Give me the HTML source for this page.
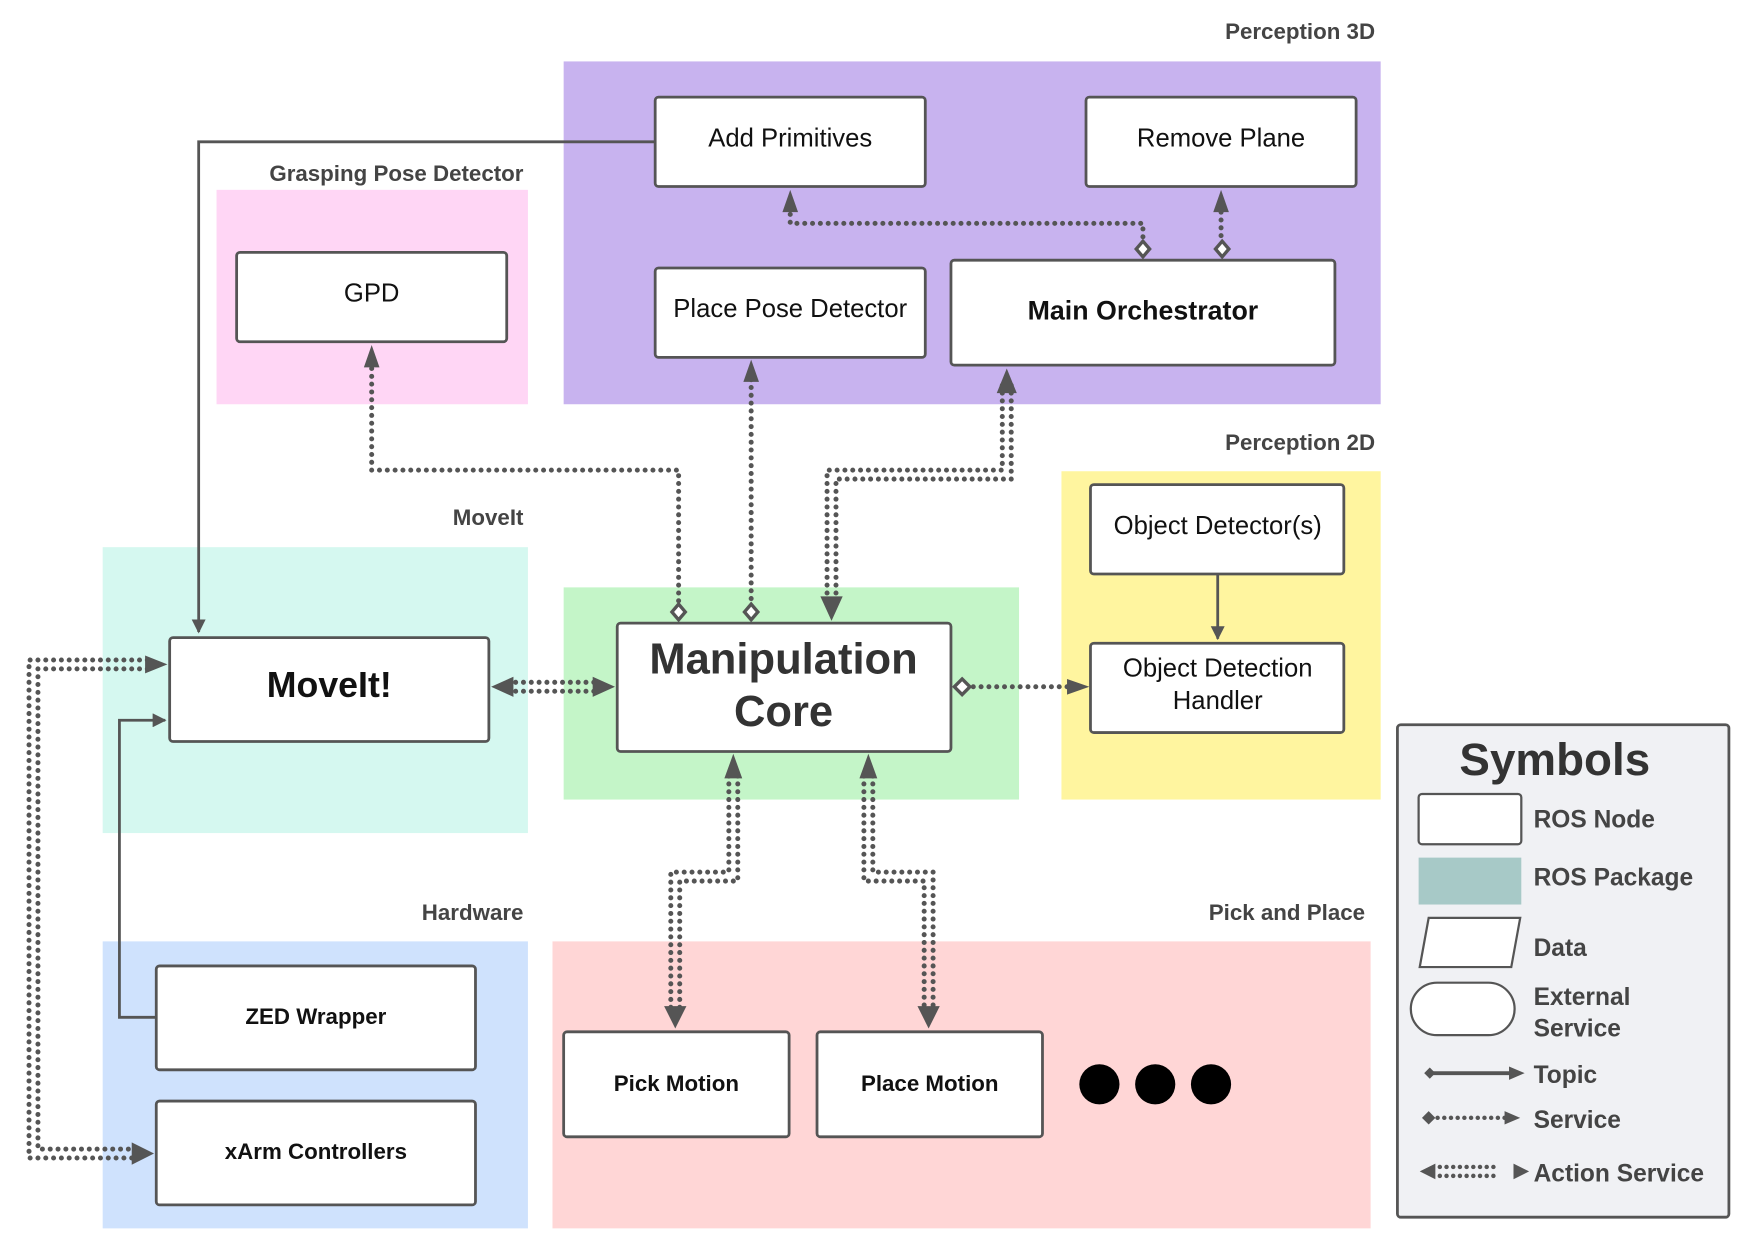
<!DOCTYPE html>
<html><head><meta charset="utf-8"><style>
html,body{margin:0;padding:0;background:#fff;}
svg{display:block;}
text{font-family:"Liberation Sans",sans-serif;}
</style></head><body>
<svg width="1749" height="1244" viewBox="0 0 1567 1114" preserveAspectRatio="none" xmlns="http://www.w3.org/2000/svg">
<defs>
<marker id="ar" viewBox="0 0 10 10" refX="9" refY="5" markerWidth="5" markerHeight="5" orient="auto-start-reverse" markerUnits="strokeWidth"><path d="M0,0 L10,5 L0,10 z" fill="#555"/></marker>
</defs>
<rect width="1567" height="1114" fill="#fff"/>
<rect x="505" y="55" width="732" height="307" fill="#c8b3ef"/>
<rect x="194" y="170" width="279" height="192" fill="#ffd6f5"/>
<rect x="92" y="490" width="381" height="256" fill="#d5f8f0"/>
<rect x="505" y="526" width="408" height="190" fill="#c4f5c8"/>
<rect x="951" y="422" width="286" height="294" fill="#fff59f"/>
<rect x="92" y="843" width="381" height="257" fill="#cfe2fd"/>
<rect x="495" y="843" width="733" height="257" fill="#ffd6d6"/>
<g font-weight="bold" font-size="20" fill="#444" text-anchor="end">
<text x="1232" y="35">Perception 3D</text>
<text x="469" y="162">Grasping Pose Detector</text>
<text x="469" y="470">MoveIt</text>
<text x="1232" y="403">Perception 2D</text>
<text x="469" y="824">Hardware</text>
<text x="1223" y="824">Pick and Place</text>
</g>
<g fill="none" stroke="#555" stroke-width="2.5">
<path d="M587,127 L178,127 L178,566" marker-end="url(#ar)"/>
<path d="M140,911 L107,911 L107,645 L148,645" marker-end="url(#ar)"/>
<path d="M1091,514 L1091,572" marker-end="url(#ar)"/>
</g>
<g fill="none" stroke="#555" stroke-width="4.5" stroke-linecap="round" stroke-dasharray="0 7">
<path d="M333,330 L333,421 L608,421 L608,540"/>
<path d="M673,340 L673,540"/>
<path d="M708,192 L708,200 L1024,200 L1024,216"/>
<path d="M1094,190 L1094,216"/>
<path d="M872,615 L958,615"/>
<path d="M898,345 L898,421 L741,421 L741,540"/>
<path d="M906,345 L906,429 L749,429 L749,540"/>
<path d="M455,611 L537,611"/>
<path d="M455,619 L537,619"/>
<path d="M653,695 L653,781 L601,781 L601,905"/>
<path d="M661,695 L661,789 L609,789 L609,905"/>
<path d="M774,695 L774,789 L828,789 L828,905"/>
<path d="M782,695 L782,781 L836,781 L836,905"/>
<path d="M132,591 L26,591 L26,1037 L122,1037"/>
<path d="M132,599 L34,599 L34,1029 L122,1029"/>
</g>
<g fill="#555">
<path d="M333,309 l-7,20 l14,0z"/>
<path d="M673,322 l-7,20 l14,0z"/>
<path d="M708,170 l-7,20 l14,0z"/>
<path d="M1094,170 l-7,20 l14,0z"/>
<path d="M902,330 l-9,22 l18,0z"/>
<path d="M745,556 l-10,-22 l20,0z"/>
<path d="M976,615 l-20,-7 l0,14z"/>
<path d="M440,615 l20,-9 l0,18z"/>
<path d="M551,615 l-20,-9 l0,18z"/>
<path d="M657,675 l-8,22 l16,0z"/>
<path d="M778,675 l-8,22 l16,0z"/>
<path d="M605,921 l-10,-20 l20,0z"/>
<path d="M832,921 l-10,-20 l20,0z"/>
<path d="M150,595 l-20,-8 l0,16z"/>
<path d="M138,1033 l-20,-10 l0,20z"/>
</g>
<g fill="#fff" stroke="#555" stroke-width="3">
<path d="M608,541 l6,7 l-6,7 l-6,-7z"/>
<path d="M673,541 l6,7 l-6,7 l-6,-7z"/>
<path d="M1024,216 l6,7 l-6,7 l-6,-7z"/>
<path d="M1095,216 l6,7 l-6,7 l-6,-7z"/>
<path d="M862,608 l7,7 l-7,7 l-7,-7z"/>
</g>
<g fill="#fff" stroke="#555" stroke-width="2.5">
<rect x="587" y="87" width="242" height="80" rx="3"/>
<rect x="973" y="87" width="242" height="80" rx="3"/>
<rect x="212" y="226" width="242" height="80" rx="3"/>
<rect x="587" y="240" width="242" height="80" rx="3"/>
<rect x="852" y="233" width="344" height="94" rx="3"/>
<rect x="152" y="571" width="286" height="93" rx="3"/>
<rect x="553" y="558" width="299" height="115" rx="3"/>
<rect x="977" y="434" width="227" height="80" rx="3"/>
<rect x="977" y="576" width="227" height="80" rx="3"/>
<rect x="140" y="865" width="286" height="93" rx="3"/>
<rect x="140" y="986" width="286" height="93" rx="3"/>
<rect x="505" y="924" width="202" height="94" rx="3"/>
<rect x="732" y="924" width="202" height="94" rx="3"/>
</g>
<g fill="#111" text-anchor="middle" font-size="23">
<text x="708" y="131">Add Primitives</text>
<text x="1094" y="131">Remove Plane</text>
<text x="333" y="270">GPD</text>
<text x="708" y="284">Place Pose Detector</text>
<text x="1024" y="286" font-weight="bold" font-size="24">Main Orchestrator</text>
<text x="295" y="624" font-weight="bold" font-size="32">MoveIt!</text>
<text x="702" y="603" font-weight="bold" font-size="39" fill="#333">Manipulation</text>
<text x="702" y="650" font-weight="bold" font-size="39" fill="#333">Core</text>
<text x="1091" y="478">Object Detector(s)</text>
<text x="1091" y="606">Object Detection</text>
<text x="1091" y="635">Handler</text>
<g font-weight="bold" font-size="20">
<text x="283" y="917">ZED Wrapper</text>
<text x="283" y="1038">xArm Controllers</text>
<text x="606" y="977">Pick Motion</text>
<text x="833" y="977">Place Motion</text>
</g>
</g>
<circle cx="985" cy="971" r="18" fill="#000"/>
<circle cx="1035" cy="971" r="18" fill="#000"/>
<circle cx="1085" cy="971" r="18" fill="#000"/>
<rect x="1252" y="649" width="297" height="441" rx="3" fill="#f0f1f4" stroke="#555" stroke-width="2.5"/>
<text x="1393" y="694" text-anchor="middle" font-weight="bold" font-size="41" fill="#333">Symbols</text>
<rect x="1271" y="711" width="92" height="45" rx="3" fill="#fff" stroke="#555" stroke-width="2"/>
<rect x="1271" y="768" width="92" height="42" fill="#a7c9c7"/>
<path d="M1280,822 L1362,822 L1354,866 L1272,866 Z" fill="#fff" stroke="#555" stroke-width="2"/>
<rect x="1264" y="880" width="93" height="47" rx="23.5" fill="#fff" stroke="#555" stroke-width="2"/>
<g stroke="#555" fill="#555">
<path d="M1279,961 L1355,961" stroke-width="3.5"/>
<path d="M1366,961 l-14,-6 l0,12z" stroke="none"/>
<path d="M1276,961 l5,-5 l5,5 l-5,5z" stroke="none"/>
<path d="M1288,1001 L1350,1001" stroke-width="4" stroke-linecap="round" stroke-dasharray="0 6" fill="none"/>
<path d="M1362,1001 l-14,-6 l0,12z" stroke="none"/>
<path d="M1274,1001 l6,-6 l6,6 l-6,6z" stroke="none"/>
<path d="M1290,1045 L1340,1045 M1290,1053 L1340,1053" stroke-width="4" stroke-linecap="round" stroke-dasharray="0 6" fill="none"/>
<path d="M1272,1049 l14,-7 l0,14z" stroke="none"/>
<path d="M1370,1049 l-14,-7 l0,14z" stroke="none"/>
</g>
<g font-weight="bold" font-size="22" fill="#444">
<text x="1374" y="741">ROS Node</text>
<text x="1374" y="793">ROS Package</text>
<text x="1374" y="856">Data</text>
<text x="1374" y="900">External</text>
<text x="1374" y="928">Service</text>
<text x="1374" y="970">Topic</text>
<text x="1374" y="1010">Service</text>
<text x="1374" y="1058">Action Service</text>
</g>
</svg>
</body></html>
